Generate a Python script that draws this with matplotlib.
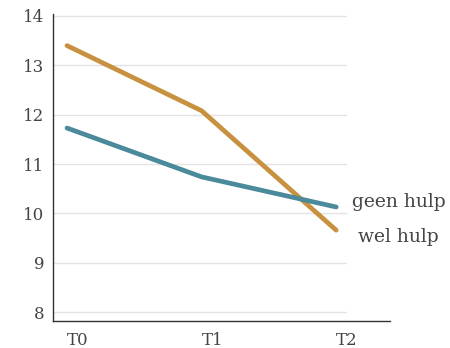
import matplotlib
matplotlib.use('Agg')
import matplotlib.pyplot as plt
import matplotlib.transforms as mtransforms

times = ['T0', 'T1', 'T2']
wel_hulp = [13.4, 12.08, 9.66]
geen_hulp = [11.73, 10.74, 10.13]
y_ticks = [8, 9, 10, 11, 12, 13, 14]

plt.rcParams['font.family'] = 'DejaVu Serif'
text_color = '#444444'

fig = plt.figure(figsize=(4.5, 3.48), dpi=100)
ax = fig.add_axes([53 / 450, 1 - 321 / 348, (390 - 53) / 450, (321 - 14) / 348])

x = list(range(len(times)))
ax.plot(x, wel_hulp, color='#C8913F', linewidth=3.4, solid_capstyle='round', zorder=3)
ax.plot(x, geen_hulp, color='#4B8A9A', linewidth=3.4, solid_capstyle='round', zorder=3)

ax.set_xlim(-0.104, 2.40)
ax.set_ylim(7.82, 14.04)

# gridlines stop short of the right end
for v in y_ticks:
    ax.plot([-0.104, 2.074], [v, v], color='#e3e3e3', linewidth=1, zorder=1)

ax.set_yticks(y_ticks)
ax.set_yticklabels([str(v) for v in y_ticks], fontsize=12, color=text_color)
ax.set_xticks(x)
ax.set_xticklabels(times, fontsize=12, color=text_color, ha='left')
offset = mtransforms.ScaledTranslation(-3 / 100, 0, fig.dpi_scale_trans)
for lab in ax.get_xticklabels():
    lab.set_transform(lab.get_transform() + offset)
ax.tick_params(axis='y', length=0, pad=6)
ax.tick_params(axis='x', length=0, pad=8)

for s in ['top', 'right']:
    ax.spines[s].set_visible(False)
for s in ['left', 'bottom']:
    ax.spines[s].set_color('#333333')
    ax.spines[s].set_linewidth(1)

ax.text(2.12, geen_hulp[-1] + 0.1, 'geen hulp', fontsize=13.5, color=text_color, va='center', ha='left')
ax.text(2.16, wel_hulp[-1] - 0.13, 'wel hulp', fontsize=13.5, color=text_color, va='center', ha='left')

fig.savefig('out.png', dpi=100)
